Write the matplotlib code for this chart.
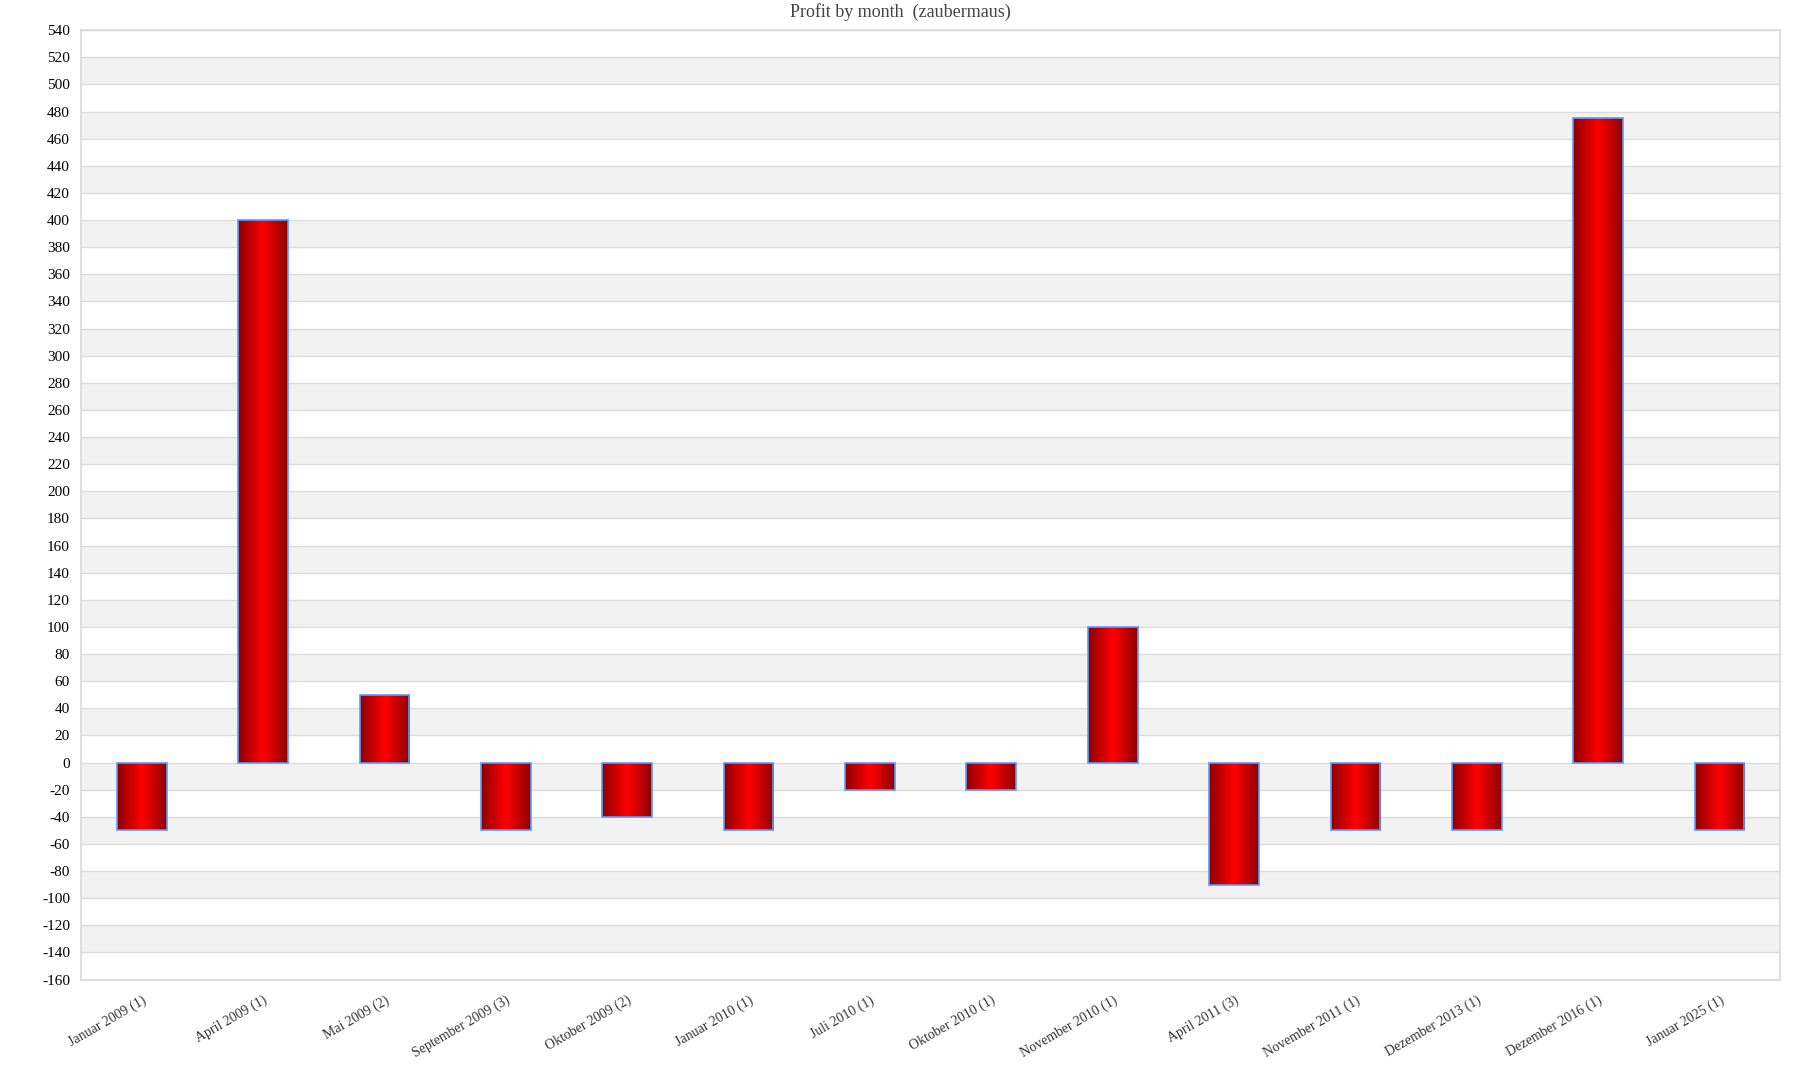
import numpy as np
import matplotlib.pyplot as plt
import matplotlib.transforms as mtransforms

months = ["Januar 2009 (1)", "April 2009 (1)", "Mai 2009 (2)", "September 2009 (3)",
          "Oktober 2009 (2)", "Januar 2010 (1)", "Juli 2010 (1)", "Oktober 2010 (1)",
          "November 2010 (1)", "April 2011 (3)", "November 2011 (1)", "Dezember 2013 (1)",
          "Dezember 2016 (1)", "Januar 2025 (1)"]
profit = [-50, 400, 50, -50, -40, -50, -20, -20, 100, -90, -50, -50, 475, -50]

y_min, y_max, y_step = -160, 540, 20

plt.rcParams["font.family"] = ["Liberation Serif", "DejaVu Serif"]
plt.rcParams["axes.unicode_minus"] = False

fig = plt.figure(figsize=(18, 10.8), dpi=100)
ax = fig.add_axes([0.045, 0.093, 0.944, 0.879])

x = np.arange(len(months))
ax.set_xlim(-0.5, len(months) - 0.5)
ax.set_ylim(y_min, y_max)

# alternating bands
for y0 in range(y_min, y_max, y_step):
    if (y0 // y_step) % 2 != 0:
        ax.axhspan(y0, y0 + y_step, color="#f2f2f2", zorder=0, lw=0)
for y0 in range(y_min, y_max + 1, y_step):
    ax.axhline(y0, color="#dcdcdc", lw=1, zorder=0.5)

bars = ax.bar(x, profit, width=0.41, facecolor="none", edgecolor="#5b9bff", lw=1.2, zorder=3)

# horizontal gradient: dark red -> red -> dark red
t = np.linspace(0, 1, 256)
w = 1 - np.abs(2 * t - 1)
dark = np.array([0.55, 0.0, 0.0])
bright = np.array([1.0, 0.0, 0.0])
grad = (dark[None, :] * (1 - w[:, None]) + bright[None, :] * w[:, None])[None, :, :]

for b in bars:
    x0, y0 = b.get_x(), b.get_y()
    bw, bh = b.get_width(), b.get_height()
    im = ax.imshow(grad, extent=[x0, x0 + bw, min(y0, y0 + bh), max(y0, y0 + bh)],
                   aspect="auto", zorder=2, interpolation="bilinear")
    im.set_clip_path(b)

ax.set_xticks(x)
ax.set_xticklabels(months, rotation=30, ha="right", rotation_mode="anchor",
                   fontsize=10, color="#333333")
offset = mtransforms.ScaledTranslation(-6 / 100, 0, fig.dpi_scale_trans)
for lbl in ax.get_xticklabels():
    lbl.set_transform(lbl.get_transform() + offset)
ax.set_yticks(np.arange(y_min, y_max + 1, y_step))
ax.tick_params(axis="y", labelsize=11, length=0, pad=8)
ax.tick_params(axis="x", length=0, pad=10)
for s in ax.spines.values():
    s.set_color("#d9d9d9")
    s.set_linewidth(1.2)

fig.suptitle("Profit by month  (zaubermaus)", fontsize=13, color="#444444", y=0.997, va="top")

fig.savefig("out.png", dpi=100, facecolor="white")
